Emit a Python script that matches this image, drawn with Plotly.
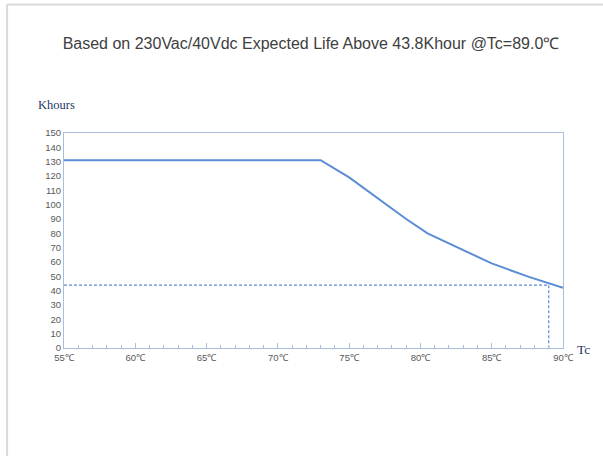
import plotly.graph_objects as go

# Data
tc_values = [55, 73, 75, 77, 79, 80.5, 82.5, 85, 87.5, 90]
life_khours = [131, 131, 119, 104.5, 90, 80, 70.5, 59, 50, 42]
ref_tc = 89.0
ref_life = 43.8
x_tick_vals = [55, 60, 65, 70, 75, 80, 85, 90]
x_tick_text = ["55℃", "60℃", "65℃", "70℃", "75℃", "80℃", "85℃", "90℃"]
y_tick_vals = list(range(0, 151, 10))

LINE = "#5B8CD5"
AXIS = "#A8BEDC"
TICKFONT = dict(family="Liberation Sans", size=9.5, color="#595959")

fig = go.Figure()

# reference dashed lines
fig.add_trace(go.Scatter(
    x=[x_tick_vals[0], ref_tc], y=[ref_life, ref_life], mode="lines",
    line=dict(color=LINE, width=1.2, dash="3px,2px"), hoverinfo="skip", showlegend=False))
fig.add_trace(go.Scatter(
    x=[ref_tc, ref_tc], y=[ref_life, 0], mode="lines",
    line=dict(color=LINE, width=1.2, dash="3px,2px"), hoverinfo="skip", showlegend=False))

# life curve
fig.add_trace(go.Scatter(
    x=tc_values, y=life_khours, mode="lines",
    line=dict(color=LINE, width=2), showlegend=False))

fig.update_layout(
    width=603, height=456,
    margin=dict(l=64, r=40, t=133, b=108),
    paper_bgcolor="white", plot_bgcolor="white",
    title=dict(
        text="Based on 230Vac/40Vdc Expected Life Above 43.8Khour @Tc=89.0℃",
        font=dict(family="Liberation Sans", size=16, color="#404040"),
        x=311 / 603, xref="container", xanchor="center",
        y=1 - 43 / 456, yref="container", yanchor="middle"),
    xaxis=dict(
        range=[55, 90], tickvals=x_tick_vals, ticktext=x_tick_text,
        showgrid=False, zeroline=False, showline=True, linecolor=AXIS, linewidth=1,
        mirror=True, ticks="inside", ticklen=5, tickcolor=AXIS, tickwidth=1,
        minor=dict(dtick=1, ticks="inside", ticklen=3, tickcolor=AXIS, tickwidth=1),
        ticklabelstandoff=1, tickfont=TICKFONT),
    yaxis=dict(
        range=[0, 150], tickvals=y_tick_vals,
        showgrid=False, zeroline=False, showline=True, linecolor=AXIS, linewidth=1,
        mirror=True, ticks="", tickfont=TICKFONT),
    annotations=[
        dict(text="Khours", xref="paper", yref="paper", x=-0.056, y=1.13,
             xanchor="left", yanchor="middle", showarrow=False,
             font=dict(family="Liberation Serif", size=12.5, color="#1F3864")),
        dict(text="Tc", xref="paper", yref="paper", x=1.025, y=-0.008,
             xanchor="left", yanchor="middle", showarrow=False,
             font=dict(family="Liberation Serif", size=13.5, color="#1F3864")),
    ],
    shapes=[
        dict(type="line", xref="paper", yref="paper",
             x0=-0.114, x1=1.1, y0=1.598, y1=1.598,
             line=dict(color="#D9D9D9", width=2)),
        dict(type="line", xref="paper", yref="paper",
             x0=-0.114, x1=-0.114, y0=1.598, y1=-0.6,
             line=dict(color="#D9D9D9", width=2)),
    ],
)

fig.write_html("out.html", config={"displayModeBar": False},
               post_script="document.body.style.margin='0';")
